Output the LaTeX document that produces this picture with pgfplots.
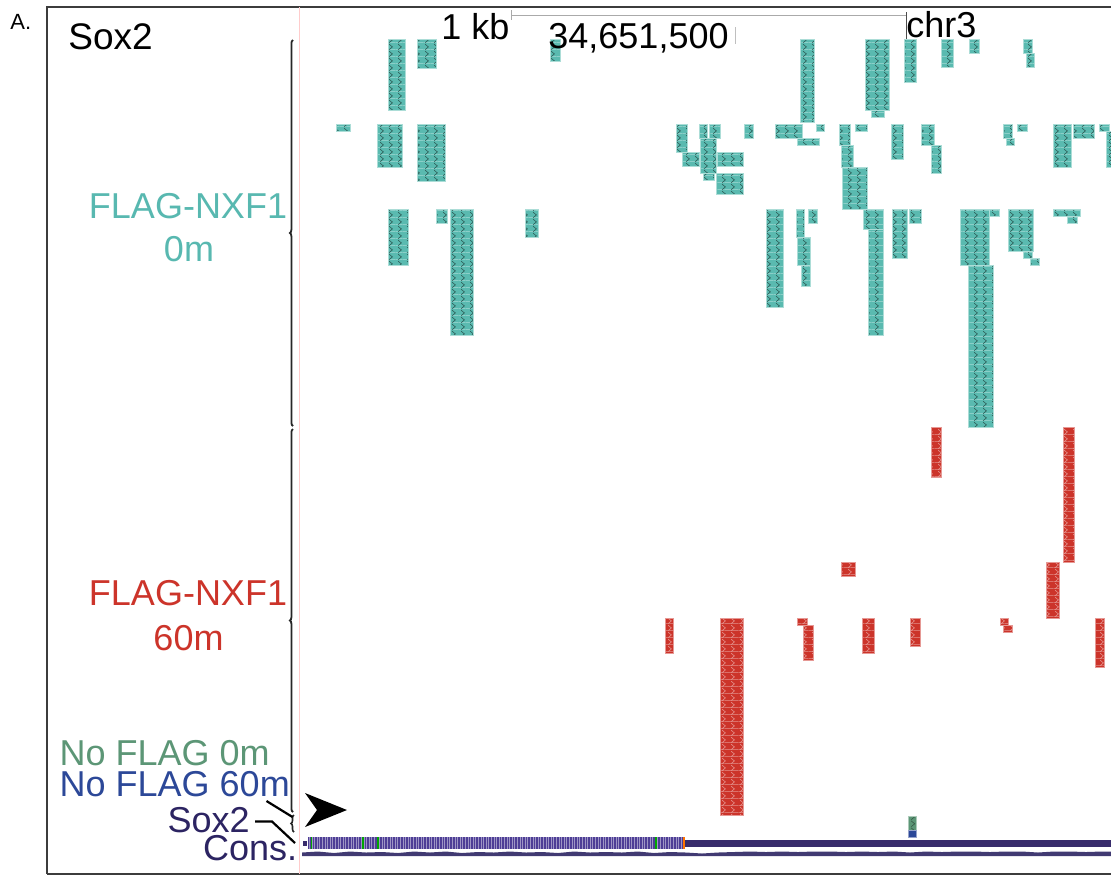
\documentclass[border=0pt]{standalone}
\usepackage{pgfplots}
\pgfplotsset{compat=1.18}
\usepackage{pgfplotstable}
\usepackage{fontspec}
\setmainfont{Liberation Sans}
\usetikzlibrary{patterns.meta,decorations.pathreplacing}

\definecolor{nxfteal}{RGB}{90,186,176}
\definecolor{nxftealtext}{RGB}{88,184,176}
\definecolor{nxfred}{RGB}{204,52,42}
\definecolor{nflgreen}{RGB}{92,150,118}
\definecolor{nflblue}{RGB}{44,72,152}
\definecolor{genenavy}{RGB}{44,36,98}
\definecolor{genebar}{RGB}{56,44,108}
\definecolor{exonfill}{RGB}{78,62,150}
\definecolor{scalegray}{RGB}{170,170,170}
\definecolor{framegray}{RGB}{60,60,60}

% one chevron per read tile
\tikzdeclarepattern{
  name=readchevron,
  type=uncolored,
  bounding box={(0pt,0pt) and (4.5pt,3.5pt)},
  tile size={(4.5pt,3.5pt)},
  code={\draw[line width=0.32pt] (1.2pt,0.2pt) -- (3pt,1.75pt) -- (1.2pt,3.3pt);}
}

% read pile-ups: x1 y1 x2 y2 (genome-browser pixel frame, y downwards)
\pgfplotstableread{
x1 y1 x2 y2
388 39 405 110
417 39 436 68
550 39 560 61
800 39 814 122
865 39 889 110
871 110 884 117
904 39 916 82
941 39 953 67
969 39 979 53
1023 39 1032 53
1026 53 1034 67
336 124 350 131
377 124 402 167
417 124 445 181
676 124 687 152
682 152 699 166
699 124 707 138
709 124 720 138
700 138 716 173
703 173 714 180
717 152 743 166
716 173 743 194
744 124 753 138
775 124 802 138
797 138 819 145
816 124 824 131
839 124 850 145
841 145 853 167
842 167 867 209
855 124 867 131
891 124 903 159
921 124 934 145
931 145 941 173
1003 124 1012 138
1006 138 1014 145
1017 124 1027 131
1053 124 1071 167
1073 124 1094 138
1099 124 1109 131
1106 131 1111 167
388 209 408 265
436 209 447 223
450 209 473 335
525 209 538 237
766 209 783 307
796 209 804 237
797 237 810 265
801 265 810 286
808 209 817 223
863 209 883 229
868 229 883 335
892 209 907 258
909 209 921 223
960 209 989 265
968 265 993 427
989 209 999 216
1008 209 1033 251
1023 251 1032 258
1030 258 1039 265
1053 209 1080 216
1067 216 1077 223
}\tealreads

\pgfplotstableread{
x1 y1 x2 y2
931 427 941 477
1063 427 1074 562
841 562 855 576
1046 562 1059 618
665 618 673 653
720 618 743 815
797 618 807 625
803 625 813 660
862 618 874 653
910 618 920 646
1000 618 1008 625
1003 625 1012 632
1095 618 1104 667
}\redreads

\pgfplotstableread{
x1 y1 x2 y2
908 816 916 830
}\greenreads

\pgfplotstableread{
x1 y1 x2 y2
908 830 916 837
}\bluereads

% turn a table of rectangles into one filled plot (rectangles separated by jumps)
\newcommand\readstack[2]{%
  \pgfplotstablegetrowsof{#1}%
  \pgfmathtruncatemacro\nrows{\pgfplotsretval-1}%
  \def\readpath{}%
  \pgfplotsforeachungrouped \r in {0,...,\nrows}{%
    \pgfplotstablegetelem{\r}{x1}\of{#1}\let\xa\pgfplotsretval
    \pgfplotstablegetelem{\r}{y1}\of{#1}\let\ya\pgfplotsretval
    \pgfplotstablegetelem{\r}{x2}\of{#1}\let\xb\pgfplotsretval
    \pgfplotstablegetelem{\r}{y2}\of{#1}\let\yb\pgfplotsretval
    \edef\readpath{\readpath (\xa,\ya) (\xb,\ya) (\xb,\yb) (\xa,\yb) (\xa,\ya) (nan,nan)}%
  }%
  \edef\tmp{\noexpand\addplot[#2] coordinates {\readpath};}\tmp
}

\pgfplotsset{
  readbase/.style={line width=0.3pt, mark=none},
  tealread/.style={readbase, draw=nxfteal!50!white, fill=nxfteal,
    postaction={pattern={Lines[angle=0,distance=3.5pt,line width=0.2pt]}, pattern color=white!30!nxfteal},
    postaction={pattern=readchevron, pattern color=black!55!nxfteal}},
  redread/.style={readbase, draw=nxfred!50!white, fill=nxfred,
    postaction={pattern={Lines[angle=0,distance=3.5pt,line width=0.2pt]}, pattern color=white!30!nxfred},
    postaction={pattern=readchevron, pattern color=white!50!nxfred}},
  greenread/.style={readbase, draw=nflgreen!50!white, fill=nflgreen,
    postaction={pattern=readchevron, pattern color=black!40!nflgreen}},
  blueread/.style={readbase, draw=nflblue!50!white, fill=nflblue},
}
\tikzset{lbl/.style={inner sep=0pt, font=\fontsize{18}{21}\selectfont}}

\begin{document}
\begin{tikzpicture}
\begin{axis}[
  x=0.5pt, y=0.5pt, y dir=reverse,
  xmin=0, xmax=1111, ymin=0, ymax=875,
  enlargelimits=false, hide axis, clip=false,
  unbounded coords=jump,
]
% panel frame and track-area edge
\draw[framegray, line width=1pt] (47,874) -- (47,7) -- (1111,7);
\draw[framegray, line width=0.8pt] (47,874) -- (1111,874);
\draw[red!20, line width=0.4pt] (299.5,7) -- (299.5,874);

% coordinate ruler
\draw[scalegray, line width=0.5pt] (511,15) -- (906,15);
\draw[scalegray, line width=0.5pt] (511,10) -- (511,20);
\draw[black!70, line width=0.5pt] (906,12) -- (906,40);
\draw[black!25, line width=0.5pt] (735,27) -- (735,44);

% read pile-ups
\readstack{\tealreads}{tealread}
\readstack{\redreads}{redread}
\readstack{\greenreads}{greenread}
\readstack{\bluereads}{blueread}

% Sox2 gene model
\addplot[fill=genebar, draw=none] coordinates {(302.5,841) (306.5,841) (306.5,846) (302.5,846)};
\addplot[fill=genebar, draw=none] coordinates {(685,840) (1111,840) (1111,847) (685,847)};
\addplot[fill=exonfill, draw=none,
  postaction={pattern={Lines[angle=90,distance=1.3pt,line width=0.35pt]}, pattern color=exonfill!55!white}]
  coordinates {(307.5,837) (685,837) (685,848.5) (307.5,848.5)};
\addplot[green!65!black, line width=0.7pt] coordinates {(311.5,837) (311.5,848.5) (nan,nan) (363,837) (363,848.5) (nan,nan) (378,837) (378,848.5) (nan,nan) (656,837) (656,848.5)};
\addplot[orange!90!red, line width=0.8pt] coordinates {(684,837) (684,848.5)};

% conservation track
\addplot[fill=genenavy!90!white, draw=none] coordinates {
 (302,852.5) (318,851.5) (334,853) (350,851.5) (366,852.5) (382,852) (398,853) (414,851.5)
 (430,852.5) (446,851.5) (462,853) (478,852) (494,852.5) (510,851.5) (526,852.5) (542,852)
 (558,853) (574,851.5) (590,852.5) (606,852) (622,852.5) (638,851.5) (654,853) (670,852)
 (686,852.5) (702,853.5) (718,852.5) (734,852) (750,851.5) (766,852) (782,851.5) (798,852)
 (814,851.5) (830,851.5) (846,852) (862,851.5) (878,852) (894,851.5) (910,852.5) (926,851.5)
 (942,852) (958,851.5) (974,851.5) (990,852) (1006,851.5) (1022,851.5) (1038,852.5) (1054,851.5)
 (1070,851.5) (1086,852) (1102,851.5) (1111,851.5)
 (1111,856) (302,856)};

% black arrowhead at the gene
\addplot[fill=black, draw=none] coordinates {(305,793) (347,810) (305,827) (317,810)};

% track brackets
\draw[black!85, line width=0.9pt, decorate, decoration={brace, amplitude=1.6pt, mirror}] (293,40) -- (293,426);
\draw[black!85, line width=0.9pt, decorate, decoration={brace, amplitude=1.6pt, mirror}] (293,429) -- (293,812);
\draw[black!85, line width=0.8pt, decorate, decoration={brace, amplitude=1.5pt, mirror}] (294,815) -- (294,832);
% leader lines
\draw[black, line width=1.1pt] (266.5,801) -- (292.5,817);
\draw[black, line width=1.1pt] (255,821.5) -- (272,821.5) -- (295,843);

% text
\node[inner sep=0pt, anchor=base west, font=\fontsize{11}{13}\selectfont] at (10,29) {A.};
\node[lbl, anchor=base west, font=\fontsize{18.5}{21}\selectfont] at (68,49) {Sox2};
\node[lbl, anchor=base west] at (441,39) {1 kb};
\node[lbl, anchor=base west] at (548,48) {34,651,500};
\node[lbl, anchor=base west] at (906,37) {chr3};
\node[lbl, anchor=base, text=nxftealtext] at (188,218) {FLAG-NXF1};
\node[lbl, anchor=base, text=nxftealtext] at (189,261.5) {0m};
\node[lbl, anchor=base, text=nxfred] at (188,605.5) {FLAG-NXF1};
\node[lbl, anchor=base, text=nxfred] at (188.5,650) {60m};
\node[lbl, anchor=base west, text=nflgreen] at (59.3,765.5) {No FLAG 0m};
\node[lbl, anchor=base west, text=nflblue] at (59.3,796.5) {No FLAG 60m};
\node[lbl, anchor=base east, text=genenavy] at (250,832.5) {Sox2};
\node[lbl, anchor=base east, text=genenavy] at (297.5,860) {Cons.};
\end{axis}
\pgfresetboundingbox
\path[use as bounding box] (current axis.south west) rectangle (current axis.north east);
\end{tikzpicture}
\end{document}
